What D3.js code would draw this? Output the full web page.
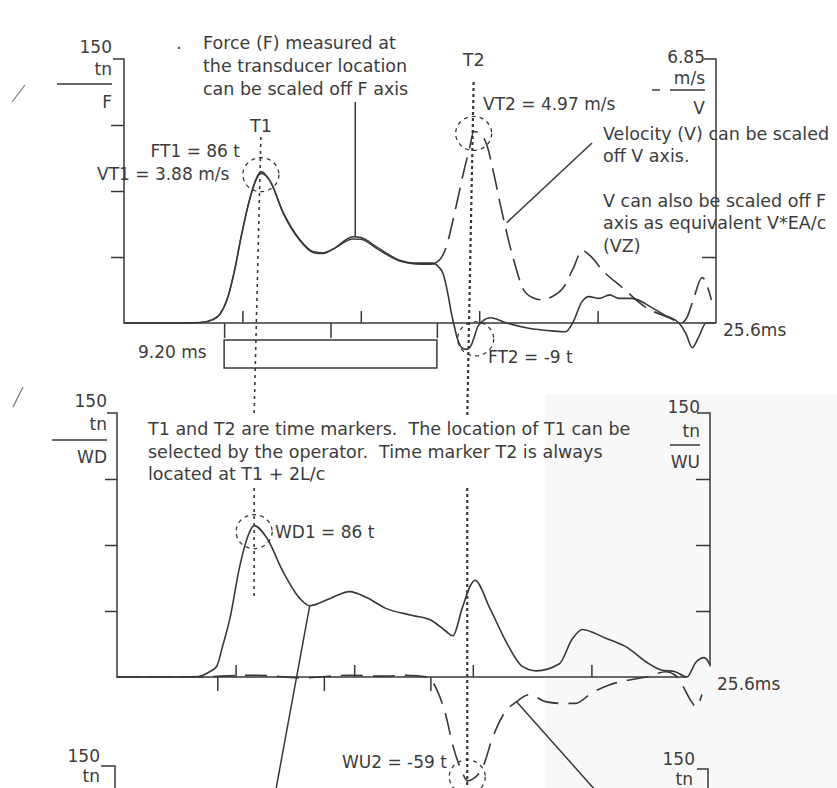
<!DOCTYPE html>
<html>
<head>
<meta charset="utf-8">
<script src="https://cdn.jsdelivr.net/npm/d3@7"></script>
<style>
  body { margin: 0; background: #fff; }
  svg { display: block; }
  text { font-family: "DejaVu Sans", sans-serif; fill: #3c3c3c; white-space: pre; }
</style>
</head>
<body>
<div id="chart"></div>
<script>
// times in ms, force / wave values in tn, velocity in m/s
const T1 = 5.92;
const twoLc = 9.20;
const T2 = T1 + twoLc;
const bracketStart = 4.33;
const timeTicks = [5.12, 10.24, 15.36, 20.48];
const forceTicks = [37.5, 75, 112.5];
const velTicks = [1.7125];

const force = [[0,0],[2,0],[3.3,0.3],[3.85,2],[4.15,5],[4.45,13],[4.8,31],[5.05,48],[5.45,71],[5.72,82],[5.92,86],
  [6.3,81],[6.9,62],[7.6,47],[8.2,40],[8.6,39.5],[9.05,42],[9.9,49],[10.25,48.5],[10.95,43],[11.95,35.5],[12.6,34],
  [13.35,34],[13.6,32],[13.8,28],[14.0,17],[14.15,6],[14.25,0],[14.42,-9],[14.6,-14],[14.8,-15],[15.0,-13],[15.12,-9],
  [15.3,-2],[15.5,1],[15.85,3],[16.55,0],[17.5,-3],[18.5,-4.5],[19.1,-5],[19.4,0],[19.8,12],[20.1,15],[20.55,14],
  [21.0,16],[21.4,14],[21.95,14],[22.85,8.6],[23.45,4],[24.0,0],[24.3,-6],[24.57,-14],[24.85,-8],[25.17,0],[25.6,0]];

const velocity = [[0,0],[2,0],[3.3,0.01],[3.85,0.09],[4.15,0.23],[4.45,0.6],[4.8,1.42],[5.05,2.19],[5.45,3.24],[5.72,3.72],
  [5.92,3.88],[6.3,3.7],[6.9,2.85],[7.6,2.17],[8.2,1.85],[8.6,1.82],[9.05,1.92],[9.9,2.18],[10.25,2.17],[10.95,1.92],
  [11.95,1.6],[12.6,1.53],[13.35,1.52],[13.75,1.72],[13.95,2.0],[14.2,2.6],[14.45,3.27],[14.7,3.95],[14.95,4.55],
  [15.12,4.97],[15.35,4.93],[15.7,4.6],[16.0,3.85],[16.3,3.0],[16.8,1.75],[17.3,0.84],[17.7,0.65],[18.1,0.6],[18.5,0.68],
  [19.0,0.92],[19.45,1.45],[19.8,1.88],[20.2,1.72],[20.7,1.36],[21.55,0.92],[22.6,0.39],[23.6,0.13],[24.1,0],[24.35,0.15],
  [24.6,0.57],[25.0,1.18],[25.4,0.6]];

const waveDown = [[0,0],[2,0],[3.5,0.3],[4.0,3],[4.3,6],[4.57,18],[4.87,33],[5.3,63],[5.65,80],[5.92,86],[6.47,79],
  [7.16,60],[7.9,44.5],[8.32,40.5],[9.18,44.5],[10.04,48.5],[10.8,45],[11.6,39],[12.76,35],[13.6,32],[14.2,26],[14.5,23.4],
  [14.9,39],[15.3,53],[15.45,55],[16.1,39],[16.8,20],[17.5,6],[18.1,3.5],[19.1,7.5],[19.65,21.6],[20.1,27],[20.6,25],
  [21.1,22],[21.5,20],[22.0,17],[22.85,8.5],[23.5,4],[24.1,3],[24.6,0],[25.0,8.5],[25.35,11],[25.6,7]];

const waveUp = [[0,0],[3.5,0],[4.5,0.5],[6,1],[8,-0.5],[10,1],[11.5,0.5],[12.5,1],[13.4,0],[13.8,-7],[14.2,-22],
  [14.5,-39],[14.9,-54],[15.12,-59],[15.35,-58],[15.8,-51],[16.2,-35],[16.65,-22],[17.25,-14],[17.8,-10],[18.5,-14],
  [19.2,-15],[19.8,-15],[20.5,-9],[21.25,-4.5],[22.0,-2],[22.85,0],[23.7,3],[24.1,1],[24.4,-4.5],[24.8,-14],[25.0,-17],
  [25.25,-10]];

const ink = '#383838';
const svg = d3.select('#chart').append('svg').attr('width', 837).attr('height', 788);

// faint scan shading
svg.append('rect').attr('x', 545).attr('y', 395).attr('width', 292).attr('height', 393).attr('fill', '#f8f8f8');

const topP = { left: 124, right: 716, base: 323, full: 59 };
const midP = { left: 117, right: 710, base: 677, full: 413 };

const xT = d3.scaleLinear().domain([0, 25.6]).range([topP.left, topP.right]);
const yF = d3.scaleLinear().domain([0, 150]).range([topP.base, topP.full]);
const yV = d3.scaleLinear().domain([0, 6.85]).range([topP.base, topP.full]);
const xM = d3.scaleLinear().domain([0, 25.6]).range([midP.left, midP.right]);
const yW = d3.scaleLinear().domain([0, 150]).range([midP.base, midP.full]);

const axisStyle = g => g.attr('color', ink).attr('stroke-width', 1.5).call(s => s.select('.domain').remove());

function addText(x, y, str, anchor, size) {
  svg.append('text').attr('x', x).attr('y', y).attr('text-anchor', anchor || 'start')
    .style('font-size', (size || 17.5) + 'px').text(str);
}

// ---------- top panel: F and V ----------
svg.append('path')
  .attr('d', `M${topP.left - 11},${yF(150)}H${topP.left}V${yF(0)}H${xT(25.6)}`)
  .attr('fill', 'none').attr('stroke', ink).attr('stroke-width', 1.5);
svg.append('path')
  .attr('d', `M${xT(25.6) - 12},${yV(6.85)}H${xT(25.6)}V${yV(0)}`)
  .attr('fill', 'none').attr('stroke', ink).attr('stroke-width', 1.5);

svg.append('g').attr('transform', `translate(${topP.left},0)`)
  .call(d3.axisLeft(yF).tickValues(forceTicks).tickSize(13).tickFormat(''))
  .call(axisStyle);
svg.append('g').attr('transform', `translate(${xT(25.6)},0)`)
  .call(d3.axisLeft(yV).tickValues(velTicks).tickSize(14).tickFormat(''))
  .call(axisStyle);
svg.append('g').attr('transform', `translate(0,${topP.base})`)
  .call(d3.axisTop(xT).tickValues(timeTicks).tickSize(12).tickFormat(''))
  .call(axisStyle);
const bracketTimes = [bracketStart, bracketStart + twoLc / 2, bracketStart + twoLc];
svg.append('g').attr('transform', `translate(0,${topP.base})`)
  .call(d3.axisBottom(xT).tickValues(bracketTimes).tickSize(15).tickFormat(''))
  .call(axisStyle);
svg.append('rect')
  .attr('x', xT(bracketStart)).attr('y', topP.base + 17)
  .attr('width', xT(bracketStart + twoLc) - xT(bracketStart)).attr('height', 28)
  .attr('fill', 'none').attr('stroke', ink).attr('stroke-width', 1.5);

const lineF = d3.line().x(d => xT(d[0])).y(d => yF(d[1])).curve(d3.curveMonotoneX);
const lineV = d3.line().x(d => xT(d[0])).y(d => yV(d[1])).curve(d3.curveMonotoneX);

svg.append('path').datum(force).attr('d', lineF)
  .attr('fill', 'none').attr('stroke', ink).attr('stroke-width', 1.6);
svg.append('path').datum(velocity.filter(d => d[0] <= 13.35)).attr('d', lineV)
  .attr('fill', 'none').attr('stroke', ink).attr('stroke-width', 1.3);
svg.append('path').datum(velocity.filter(d => d[0] >= 13.35)).attr('d', lineV)
  .attr('fill', 'none').attr('stroke', ink).attr('stroke-width', 1.6).attr('stroke-dasharray', '22,9');

// ---------- middle panel: WD and WU ----------
svg.append('path')
  .attr('d', `M${midP.left - 10},${yW(150)}H${midP.left}V${yW(0)}H${xM(24.6)}`)
  .attr('fill', 'none').attr('stroke', ink).attr('stroke-width', 1.5);
svg.append('path')
  .attr('d', `M${xM(25.6) - 13},${yW(150)}H${xM(25.6)}V${yW(6)}`)
  .attr('fill', 'none').attr('stroke', ink).attr('stroke-width', 1.5);
svg.append('g').attr('transform', `translate(${midP.left},0)`)
  .call(d3.axisLeft(yW).tickValues(forceTicks).tickSize(12).tickFormat(''))
  .call(axisStyle);
svg.append('g').attr('transform', `translate(${xM(25.6)},0)`)
  .call(d3.axisLeft(yW).tickValues(forceTicks).tickSize(14).tickFormat(''))
  .call(axisStyle);
svg.append('g').attr('transform', `translate(0,${midP.base})`)
  .call(d3.axisTop(xM).tickValues(timeTicks).tickSize(12).tickFormat(''))
  .call(axisStyle);
svg.append('g').attr('transform', `translate(0,${midP.base})`)
  .call(d3.axisBottom(xM).tickValues(bracketTimes).tickSize(14).tickFormat(''))
  .call(axisStyle);

const lineW = d3.line().x(d => xM(d[0])).y(d => yW(d[1])).curve(d3.curveMonotoneX);
svg.append('path').datum(waveDown).attr('d', lineW)
  .attr('fill', 'none').attr('stroke', ink).attr('stroke-width', 1.6);
svg.append('path').datum(waveUp).attr('d', lineW)
  .attr('fill', 'none').attr('stroke', ink).attr('stroke-width', 1.6).attr('stroke-dasharray', '22,10');

// ---------- time markers ----------
const dotted = (x1, y1, x2, y2, dash, w) => svg.append('line')
  .attr('x1', x1).attr('y1', y1).attr('x2', x2).attr('y2', y2)
  .attr('stroke', ink).attr('stroke-width', w).attr('stroke-dasharray', dash);
dotted(xT(T1), 137, xM(T1), 413, '3,4', 1.6);
dotted(xM(T1), 488, xM(T1), 600, '3,4', 1.6);
dotted(xT(T2), 82, xM(T2), 417, '3,3', 2.2);
dotted(xM(T2), 488, xM(T2), 790, '3,3', 2.2);

// dashed rings round the picked values
const ring = (cx, cy) => svg.append('ellipse').attr('cx', cx).attr('cy', cy).attr('rx', 18).attr('ry', 17)
  .attr('fill', 'none').attr('stroke', ink).attr('stroke-width', 1.3).attr('stroke-dasharray', '4,4');
ring(xT(T1), yF(86) + 3);
ring(xT(T2), yV(4.97) + 2);
ring(xT(T2) + 2, yF(-9));
ring(xM(T1), yW(86) + 6);
ring(xM(T2), yW(-59) - 4);

// pointer lines
const pointer = (x1, y1, x2, y2) => svg.append('line')
  .attr('x1', x1).attr('y1', y1).attr('x2', x2).attr('y2', y2)
  .attr('stroke', ink).attr('stroke-width', 1.5);
pointer(xT(10.0), 102, xT(10.0), yF(49));
pointer(592, 143, xT(16.55), yV(2.6));
pointer(xM(8.32), yW(40.5), 274, 800);
pointer(xM(17.25), yW(-14), 604, 800);

// ---------- axis labels ----------
const rule = (x1, x2, y) => svg.append('line').attr('x1', x1).attr('x2', x2).attr('y1', y).attr('y2', y)
  .attr('stroke', ink).attr('stroke-width', 1.5);

addText(112, 53, '150', 'end', 17);
addText(112, 75, 'tn', 'end', 17);
rule(57, 112, 84);
addText(112, 108, 'F', 'end', 17);

addText(705, 63, '6.85', 'end', 17);
addText(705, 84, 'm/s', 'end', 17);
rule(670, 705, 90);
rule(652, 660, 90);
addText(705, 114, 'V', 'end', 17);
addText(723, 336, '25.6ms', 'start', 17);

addText(107, 407, '150', 'end', 17);
addText(107, 430, 'tn', 'end', 17);
rule(52, 107, 440);
addText(107, 463, 'WD', 'end', 17);

addText(700, 413, '150', 'end', 17);
addText(700, 437, 'tn', 'end', 17);
rule(670, 700, 445);
addText(700, 468, 'WU', 'end', 17);
addText(717, 690, '25.6ms', 'start', 17);

// bottom panel (cut off)
addText(100, 762, '150', 'end', 17);
addText(100, 782, 'tn', 'end', 17);
svg.append('path').attr('d', 'M101,766H115V790').attr('fill', 'none').attr('stroke', ink).attr('stroke-width', 1.5);
addText(695, 765, '150', 'end', 17);
addText(693, 785, 'tn', 'end', 17);
svg.append('path').attr('d', 'M697,769H708V790').attr('fill', 'none').attr('stroke', ink).attr('stroke-width', 1.5);

// ---------- annotations ----------
addText(176, 49, '.');
addText(203, 49, 'Force (F) measured at');
addText(203, 72, 'the transducer location');
addText(203, 95, 'can be scaled off F axis');
addText(xT(T1), 132, 'T1', 'middle');
addText(240, 157, 'FT1 = 86 t', 'end', 17);
addText(97, 180, 'VT1 = 3.88 m/s', 'start', 17);
addText(xT(T2), 66, 'T2', 'middle');
addText(483, 110, 'VT2 = 4.97 m/s', 'start', 17);
addText(603, 140, 'Velocity (V) can be scaled');
addText(603, 162, 'off V axis.');
addText(603, 207, 'V can also be scaled off F');
addText(603, 229, 'axis as equivalent V*EA/c');
addText(603, 252, '(VZ)');
addText(488, 363, 'FT2 = -9 t', 'start', 17);
addText(138, 358, '9.20 ms', 'start', 17);

addText(148, 435, 'T1 and T2 are time markers.  The location of T1 can be');
addText(148, 458, 'selected by the operator.  Time marker T2 is always');
addText(148, 480, 'located at T1 + 2L/c');
addText(275, 538, 'WD1 = 86 t', 'start', 17);
addText(342, 768, 'WU2 = -59 t', 'start', 17);

// scan marks at left margin
svg.append('line').attr('x1', 12).attr('y1', 102).attr('x2', 25).attr('y2', 85).attr('stroke', '#777').attr('stroke-width', 1.2);
svg.append('line').attr('x1', 13).attr('y1', 407).attr('x2', 23).attr('y2', 387).attr('stroke', '#777').attr('stroke-width', 1.2);
</script>
</body>
</html>
